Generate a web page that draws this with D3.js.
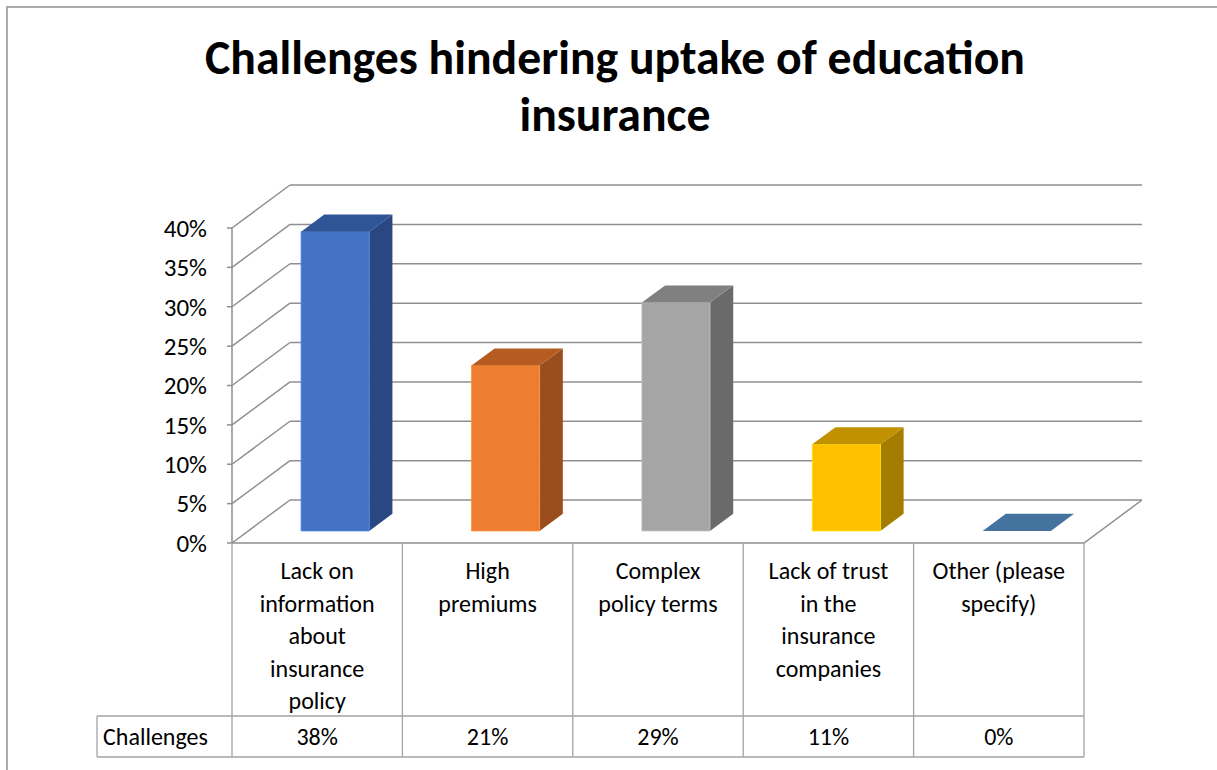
<!DOCTYPE html>
<html>
<head>
<meta charset="utf-8">
<script src="https://cdn.jsdelivr.net/npm/d3@7"></script>
<style>
  body { margin: 0; background: #fff; }
  svg { display: block; }
  text { font-family: Carlito, Calibri, Lato, "Open Sans", sans-serif; fill: #000; }
</style>
</head>
<body>
<svg id="chart" width="1217" height="770"></svg>
<script>
// ---- data ----
const titleLines = ["Challenges hindering uptake of education", "insurance"];
const categories = [
  "Lack on\ninformation\nabout\ninsurance\npolicy",
  "High\npremiums",
  "Complex\npolicy terms",
  "Lack of trust\nin the\ninsurance\ncompanies",
  "Other (please\nspecify)"
];
const seriesName = "Challenges";
const values = [0.38, 0.21, 0.29, 0.11, 0.00];
const yTicks = [0, 0.05, 0.10, 0.15, 0.20, 0.25, 0.30, 0.35, 0.40];

// face colours per point: front, top, side
const frontColors = ["#4472C4", "#ED7D31", "#A5A5A5", "#FFC000", "#5B9BD5"];
const topColors   = ["#2F5597", "#B65C22", "#808080", "#C29100", "#44739F"];
const sideColors  = ["#2B4781", "#9A4E1E", "#6A6A6A", "#A47D00", "#3A6590"];

// ---- layout ----
const W = 1217, H = 770;
const plot = { left: 232, right: 1084, top: 228, bottom: 543 };
const depth = { dx: 58, dy: -43 };      // offset of the back wall
const barDepth = [0.28, 0.68];          // bar front / back as a fraction of the depth
const barSpan = [0.31, 0.71];           // bar left / right inside its band
const table = { left: 97, rowTop: 716, rowBottom: 757 };
const gridColor = "#8f8f8f";
const tableColor = "#a3a3a3";
const labelSize = 24;

const svg = d3.select("#chart");

const x = d3.scaleBand().domain(d3.range(categories.length)).range([plot.left, plot.right]);
const y = d3.scaleLinear().domain([0, 0.4]).range([plot.bottom, plot.top]);
const proj = (px, py, d) => [px + depth.dx * d, py + depth.dy * d];
const pts = arr => arr.map(p => p.join(",")).join(" ");

// outer frame (only top and left edges fall inside the view)
svg.append("rect")
  .attr("x", 7).attr("y", 7).attr("width", W + 20).attr("height", H + 20)
  .attr("fill", "none").attr("stroke", "#ababab").attr("stroke-width", 2);

// title, sized so the first line spans its measured width
const titleG = svg.append("g");
const titleTexts = titleG.selectAll("text").data(titleLines).join("text")
  .attr("x", 615)
  .attr("y", (d, i) => 74 + i * 57)
  .attr("text-anchor", "middle")
  .attr("font-weight", "bold")
  .attr("font-size", 40)
  .text(d => d);
{
  const w = titleTexts.nodes()[0].getComputedTextLength();
  titleTexts.attr("font-size", 40 * 820 / w);
}

// side wall lines and back wall gridlines
const grid = svg.append("g").attr("stroke", gridColor).attr("stroke-width", 1.5).attr("fill", "none");
grid.selectAll("line.side").data(yTicks).join("line")
  .attr("class", "side")
  .attr("x1", plot.left).attr("y1", d => y(d))
  .attr("x2", d => proj(plot.left, y(d), 1)[0]).attr("y2", d => proj(plot.left, y(d), 1)[1]);
grid.selectAll("line.back").data(yTicks).join("line")
  .attr("class", "back")
  .attr("x1", d => proj(plot.left, y(d), 1)[0]).attr("y1", d => proj(plot.left, y(d), 1)[1])
  .attr("x2", d => proj(plot.right, y(d), 1)[0]).attr("y2", d => proj(plot.right, y(d), 1)[1]);
// floor: front and right edges
grid.append("polyline")
  .attr("points", pts([[plot.left, y(0)], [plot.right, y(0)], proj(plot.right, y(0), 1)]));

// bars
const bars = svg.append("g");
values.forEach((v, i) => {
  const x0 = x(i) + x.bandwidth() * barSpan[0];
  const x1 = x(i) + x.bandwidth() * barSpan[1];
  const yb = y(0), yt = y(v);
  const [d0, d1] = barDepth;
  const g = bars.append("g");
  if (v > 0) {
    g.append("polygon")
      .attr("points", pts([proj(x1, yb, d0), proj(x1, yb, d1), proj(x1, yt, d1), proj(x1, yt, d0)]))
      .attr("fill", sideColors[i]);
    g.append("polygon")
      .attr("points", pts([proj(x0, yb, d0), proj(x1, yb, d0), proj(x1, yt, d0), proj(x0, yt, d0)]))
      .attr("fill", frontColors[i])
      .attr("stroke", d3.color(frontColors[i]).brighter(0.5)).attr("stroke-width", 0.8);
  }
  g.append("polygon")
    .attr("points", pts([proj(x0, yt, d0), proj(x1, yt, d0), proj(x1, yt, d1), proj(x0, yt, d1)]))
    .attr("fill", topColors[i]);
});

// vertical axis
const axisG = svg.append("g");
axisG.append("line")
  .attr("x1", plot.left).attr("x2", plot.left)
  .attr("y1", y(0.4)).attr("y2", y(0))
  .attr("stroke", gridColor).attr("stroke-width", 1.5);
axisG.selectAll("line.tick").data(yTicks).join("line")
  .attr("class", "tick")
  .attr("x1", plot.left - 5).attr("x2", plot.left)
  .attr("y1", d => y(d)).attr("y2", d => y(d))
  .attr("stroke", gridColor).attr("stroke-width", 1.5);
axisG.selectAll("text").data(yTicks).join("text")
  .attr("x", 207)
  .attr("y", d => y(d))
  .attr("dy", "0.35em")
  .attr("text-anchor", "end")
  .attr("font-size", 25)
  .text(d => d3.format(".0%")(d));

// data table
const tbl = svg.append("g");
const tl = tbl.append("g").attr("stroke", tableColor).attr("stroke-width", 1.3);
d3.range(categories.length + 1).forEach(i => {
  const xx = i < categories.length ? x(i) : plot.right;
  tl.append("line").attr("x1", xx).attr("x2", xx).attr("y1", y(0)).attr("y2", table.rowBottom);
});
tl.append("line").attr("x1", table.left).attr("x2", plot.right).attr("y1", table.rowTop).attr("y2", table.rowTop);
tl.append("line").attr("x1", table.left).attr("x2", plot.right).attr("y1", table.rowBottom).attr("y2", table.rowBottom);
tl.append("line").attr("x1", table.left).attr("x2", table.left).attr("y1", table.rowTop).attr("y2", table.rowBottom);

categories.forEach((c, i) => {
  const cx = x(i) + x.bandwidth() / 2;
  tbl.append("g").selectAll("text").data(c.split("\n")).join("text")
    .attr("x", cx)
    .attr("y", (d, k) => 571 + k * 32.5)
    .attr("dy", "0.35em")
    .attr("text-anchor", "middle")
    .attr("font-size", labelSize)
    .text(d => d);
});
tbl.append("text")
  .attr("x", table.left + 6)
  .attr("y", (table.rowTop + table.rowBottom) / 2)
  .attr("dy", "0.35em")
  .attr("font-size", labelSize)
  .text(seriesName);
tbl.selectAll("text.val").data(values).join("text")
  .attr("class", "val")
  .attr("x", (d, i) => x(i) + x.bandwidth() / 2)
  .attr("y", (table.rowTop + table.rowBottom) / 2)
  .attr("dy", "0.35em")
  .attr("text-anchor", "middle")
  .attr("font-size", labelSize)
  .text(d => d3.format(".0%")(d));
</script>
</body>
</html>
